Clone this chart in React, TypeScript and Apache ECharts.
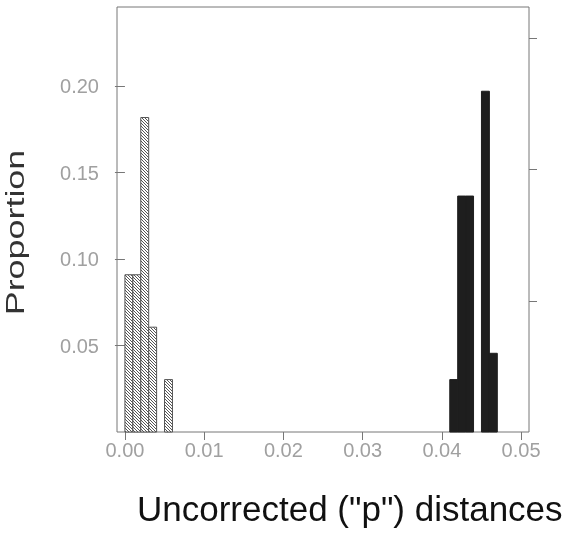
import React, { useEffect, useRef } from 'react';
import * as echarts from 'echarts';

const binWidth = 0.001;
const hatchedStarts = [0.0, 0.001, 0.002, 0.003, 0.005];
const hatchedValues = [0.0909, 0.0909, 0.1818, 0.0606, 0.0303];
const solidStarts = [0.041, 0.042, 0.043, 0.045, 0.046];
const solidValues = [0.0303, 0.1364, 0.1364, 0.197, 0.0455];
const xTicks = [0, 0.01, 0.02, 0.03, 0.04, 0.05];
const yTicks = [0.05, 0.1, 0.15, 0.2];
const rightTicks = [1, 2, 3];

function makeHatch(): string {
  const c = document.createElement('canvas');
  c.width = 3;
  c.height = 3;
  const ctx = c.getContext('2d')!;
  ctx.fillStyle = '#ffffff';
  ctx.fillRect(0, 0, 3, 3);
  ctx.fillStyle = '#555555';
  for (let i = 0; i < 3; i++) ctx.fillRect(i, i, 1, 1);
  return c.toDataURL();
}

export default function App() {
  const ref = useRef<HTMLDivElement>(null);
  useEffect(() => {
    if (!ref.current) return;
    const chart = echarts.init(ref.current, undefined, { renderer: 'svg' });
    const hatch = { image: makeHatch(), repeat: 'repeat', imageWidth: 3, imageHeight: 3 };
    const mkRender = (fill: any, stroke: string) => (params: any, api: any) => {
      const x0 = api.value(0);
      const x1 = api.value(1);
      const y = api.value(2);
      const p0 = api.coord([x0, y]);
      const p1 = api.coord([x1, 0]);
      return {
        type: 'rect',
        shape: { x: p0[0], y: p0[1], width: p1[0] - p0[0], height: p1[1] - p0[1] },
        style: { fill, stroke, lineWidth: 1 },
      };
    };
    const labelStyle = { color: '#a0a0a0', fontSize: 20, fontFamily: '"Liberation Sans", Arial, sans-serif' };
    chart.setOption({
      animation: false,
      grid: { left: 117, right: 33, top: 7, bottom: 101, show: true, borderColor: '#777', borderWidth: 1, backgroundColor: 'transparent' },
      xAxis: {
        type: 'value',
        min: -0.001,
        max: 0.051,
        axisLine: { show: false },
        splitLine: { show: false },
        axisTick: { show: true, customValues: xTicks, length: 8, lineStyle: { color: '#777' } },
        axisLabel: { ...labelStyle, customValues: xTicks, margin: 8, formatter: (v: number) => v.toFixed(2) },
      },
      yAxis: [
        {
          type: 'value',
          min: 0,
          max: 0.2457,
          axisLine: { show: false },
          splitLine: { show: false },
          axisTick: { show: true, customValues: yTicks, length: 10, lineStyle: { color: '#777' } },
          axisLabel: { ...labelStyle, customValues: yTicks, margin: 18, formatter: (v: number) => v.toFixed(2) },
        },
        {
          type: 'value',
          position: 'right',
          min: 0,
          max: 3.24,
          axisLine: { show: false },
          splitLine: { show: false },
          axisTick: { show: true, customValues: rightTicks, length: 8, lineStyle: { color: '#777' } },
          axisLabel: { show: false },
        },
      ],
      series: [
        {
          type: 'custom',
          xAxisIndex: 0,
          yAxisIndex: 0,
          renderItem: mkRender(hatch, '#555'),
          encode: { x: [0, 1], y: 2 },
          data: hatchedStarts.map((s, i) => [s, s + binWidth, hatchedValues[i]]),
        },
        {
          type: 'custom',
          xAxisIndex: 0,
          yAxisIndex: 0,
          renderItem: mkRender('#1e1e1e', '#1e1e1e'),
          encode: { x: [0, 1], y: 2 },
          data: solidStarts.map((s, i) => [s, s + binWidth, solidValues[i]]),
        },
      ],
      graphic: [
        {
          type: 'text',
          x: 15.5,
          y: 232.5,
          rotation: Math.PI / 2,
          scaleX: 1.38,
          style: {
            text: 'Proportion',
            font: '26px "Liberation Sans", Arial, sans-serif',
            fill: '#333',
            align: 'center',
            verticalAlign: 'middle',
          },
        },
        {
          type: 'text',
          x: 137,
          y: 508.5,
          style: {
            text: 'Uncorrected ("p") distances',
            font: '35px "Liberation Sans", Arial, sans-serif',
            fill: '#111',
            align: 'left',
            verticalAlign: 'middle',
          },
        },
      ],
    });
    return () => chart.dispose();
  }, []);
  return <div ref={ref} style={{ position: 'fixed', left: 0, top: 0, width: 562, height: 533 }} />;
}
